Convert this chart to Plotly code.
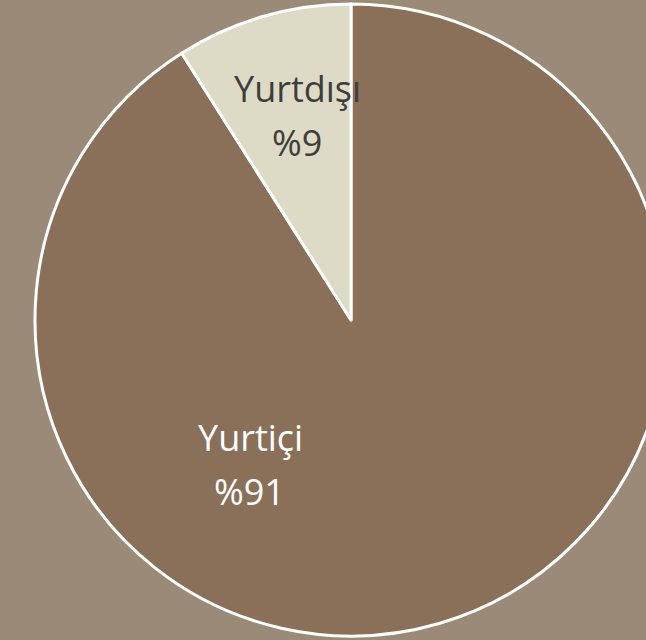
import plotly.graph_objects as go

labels = ["Yurtiçi", "Yurtdışı"]
values = [91, 9]
colors = ["#8a7059", "#dddac5"]
text_colors = ["#ffffff", "#3d3d3d"]
# label anchor pixels (centre of label line, centre of percent line)
label_px = [((250, 437), (249, 491)), ((297, 88), (297, 142))]

W, H = 702, 640
MT, MB = 4, 4

def to_paper(px, py):
    return px / W, 1 - (py - MT) / (H - MT - MB)

fig = go.Figure(go.Pie(
    labels=labels, values=values, sort=False, direction="clockwise",
    rotation=0,
    marker=dict(colors=colors, line=dict(color="#ffffff", width=3)),
    textinfo="none", hoverinfo="label+percent", showlegend=False,
))

annotations = []
for lab, val, tc, (p1, p2) in zip(labels, values, text_colors, label_px):
    for txt, (px, py) in ((lab, p1), (f"%{val}", p2)):
        x, y = to_paper(px, py)
        annotations.append(dict(
            text=txt, x=x, y=y, xref="paper", yref="paper",
            xanchor="center", yanchor="middle", showarrow=False,
            font=dict(family="Open Sans", size=36, color=tc),
        ))

fig.update_layout(
    width=W, height=H, autosize=False,
    margin=dict(l=0, r=0, t=MT, b=MB, pad=0),
    paper_bgcolor="#9c8a78", plot_bgcolor="#9c8a78",
    annotations=annotations,
)

fig.write_html("out.html")
